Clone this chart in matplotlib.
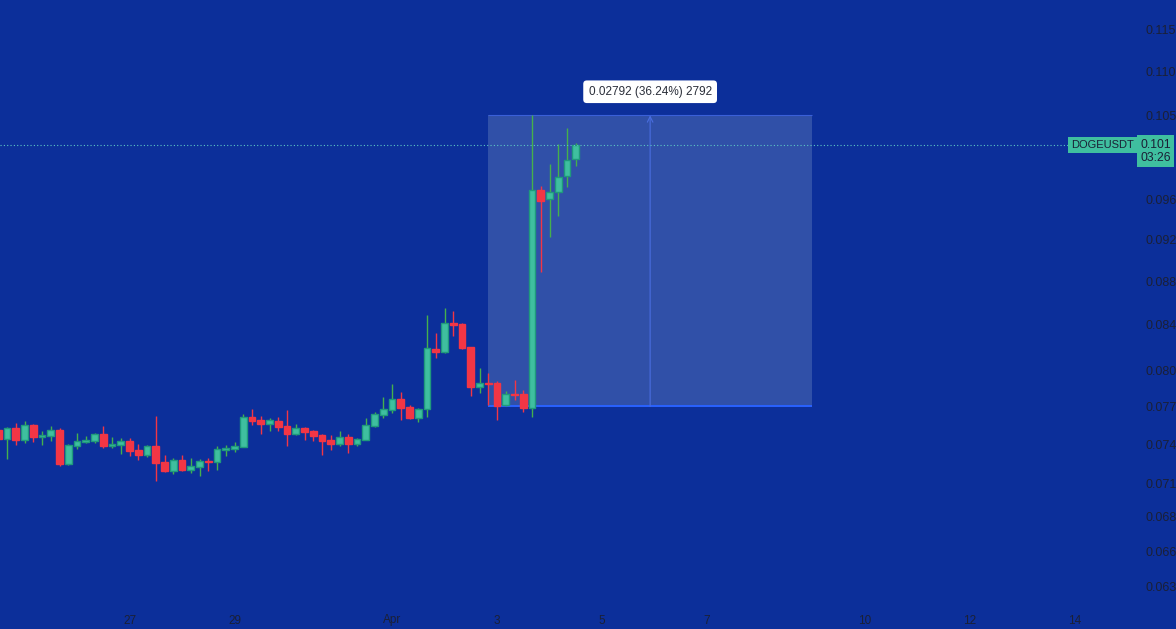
import numpy as np
import pandas as pd
import matplotlib
matplotlib.use("Agg")
import matplotlib.pyplot as plt
from matplotlib.patches import Rectangle
from matplotlib.ticker import NullLocator

plt.rcParams['font.family'] = ['Liberation Sans', 'DejaVu Sans']

### data : DOGEUSDT 4h candles ###
t0 = pd.Timestamp('2023-03-24 12:00')
n_bars = 67

o = [0.07513, 0.07441, 0.07529, 0.07434, 0.07553, 0.07457, 0.07465, 0.07513, 0.07246, 0.07386,
     0.07418, 0.07426, 0.07481, 0.07386, 0.07394, 0.07426, 0.07355, 0.07316, 0.07386, 0.07262,
     0.07193, 0.07277, 0.07200, 0.07223, 0.07269, 0.07262, 0.07355, 0.07363, 0.07378, 0.07617,
     0.07593, 0.07561, 0.07585, 0.07545, 0.07481, 0.07529, 0.07505, 0.07473, 0.07434, 0.07402,
     0.07457, 0.07402, 0.07434, 0.07545, 0.07634, 0.07674, 0.07765, 0.07699, 0.07609, 0.07683,
     0.08188, 0.08162, 0.08418, 0.08409, 0.08206, 0.07864, 0.07898, 0.07898, 0.07715, 0.07806,
     0.07806, 0.07691, 0.09696, 0.09603, 0.09675, 0.09841, 0.10020]
h = [0.07529, 0.07537, 0.07569, 0.07585, 0.07561, 0.07505, 0.07545, 0.07529, 0.07402, 0.07489,
     0.07465, 0.07489, 0.07545, 0.07457, 0.07449, 0.07449, 0.07402, 0.07394, 0.07626, 0.07316,
     0.07293, 0.07316, 0.07293, 0.07285, 0.07293, 0.07386, 0.07394, 0.07418, 0.07642, 0.07683,
     0.07626, 0.07609, 0.07617, 0.07674, 0.07561, 0.07537, 0.07513, 0.07478, 0.07473, 0.07505,
     0.07481, 0.07449, 0.07609, 0.07658, 0.07781, 0.07889, 0.07823, 0.07715, 0.07691, 0.08490,
     0.08329, 0.08553, 0.08526, 0.08418, 0.08210, 0.08025, 0.07982, 0.07915, 0.07831, 0.07923,
     0.07839, 0.10496, 0.09737, 0.09967, 0.10181, 0.10356, 0.10192]
l = [0.07426, 0.07285, 0.07394, 0.07410, 0.07418, 0.07394, 0.07426, 0.07231, 0.07240, 0.07363,
     0.07410, 0.07410, 0.07371, 0.07371, 0.07324, 0.07308, 0.07277, 0.07300, 0.07117, 0.07185,
     0.07170, 0.07193, 0.07177, 0.07155, 0.07193, 0.07200, 0.07308, 0.07339, 0.07375, 0.07553,
     0.07481, 0.07505, 0.07505, 0.07386, 0.07473, 0.07434, 0.07426, 0.07316, 0.07355, 0.07386,
     0.07332, 0.07386, 0.07430, 0.07540, 0.07609, 0.07650, 0.07593, 0.07605, 0.07577, 0.07617,
     0.08110, 0.08155, 0.08302, 0.08188, 0.07789, 0.07814, 0.07715, 0.07593, 0.07707, 0.07757,
     0.07658, 0.07617, 0.08887, 0.09223, 0.09431, 0.09727, 0.09946]
c = [0.07441, 0.07529, 0.07434, 0.07553, 0.07457, 0.07473, 0.07513, 0.07246, 0.07394, 0.07426,
     0.07434, 0.07481, 0.07386, 0.07402, 0.07426, 0.07347, 0.07316, 0.07386, 0.07254, 0.07193,
     0.07277, 0.07200, 0.07231, 0.07269, 0.07262, 0.07363, 0.07371, 0.07386, 0.07617, 0.07585,
     0.07561, 0.07593, 0.07537, 0.07481, 0.07529, 0.07497, 0.07465, 0.07426, 0.07402, 0.07457,
     0.07402, 0.07441, 0.07553, 0.07642, 0.07683, 0.07765, 0.07691, 0.07609, 0.07683, 0.08197,
     0.08162, 0.08418, 0.08400, 0.08197, 0.07864, 0.07898, 0.07889, 0.07707, 0.07806, 0.07798,
     0.07691, 0.09696, 0.09583, 0.09675, 0.09831, 0.10010, 0.10171]

# price axis (TradingView log scale)
price_ticks = [0.1150, 0.1100, 0.1050, 0.0960, 0.0920, 0.0880, 0.0840, 0.0800,
               0.0770, 0.0740, 0.0710, 0.0685, 0.0660, 0.0636]
price_labels = ['0.115', '0.110', '0.105', '0.096', '0.092', '0.088', '0.084', '0.080',
                '0.077', '0.074', '0.071', '0.068', '0.066', '0.063']
date_ticks = ['2023-03-27', '2023-03-29', '2023-04-01', '2023-04-03', '2023-04-05',
              '2023-04-07', '2023-04-10', '2023-04-12', '2023-04-14']
date_labels = ['27', '29', 'Apr', '3', '5', '7', '10', '12', '14']

# price range drawing
range_start = '2023-04-02 20:00'
range_end = '2023-04-09 00:00'
range_lo = 0.07704
range_hi = 0.10496
range_text = '0.02792 (36.24%) 2792'
symbol = 'DOGEUSDT'
last_label = '0.101\n03:26'

### style ###
BG = '#0c2f9a'
UP = '#3fbf9f'
UP_EDGE = '#1f9a7c'
UP_WICK = '#45b04c'
DOWN = '#f23645'
TXT = '#1b2036'

ref = pd.Timestamp('2023-04-01')


def to_day(ts):
    return (pd.to_datetime(ts) - ref) / pd.Timedelta(days=1)


def main():
    times = pd.date_range(t0, periods=n_bars, freq='4h')
    x = np.asarray(to_day(times), dtype=float)
    op, hi, lo, cl = map(np.asarray, (o, h, l, c))
    up = cl >= op

    fig = plt.figure(figsize=(11.76, 6.29), dpi=100)
    fig.patch.set_facecolor(BG)
    ax = fig.add_axes([0, 27 / 629, 1136 / 1176, 602 / 629])
    ax.set_facecolor(BG)
    ax.set_yscale('log')
    ax.set_ylim(0.06258, 0.11865)
    ax.set_xlim(-7.4667, 14.1714)

    # measurement box
    x0, x1 = to_day(range_start), to_day(range_end)
    ax.add_patch(Rectangle((x0, range_lo), x1 - x0, range_hi - range_lo,
                           facecolor='#3050a8', edgecolor='none', zorder=1))
    ax.hlines(range_lo, x0, x1, color='#2962ff', lw=1.4, zorder=2)
    ax.hlines(range_hi, x0, x1, color='#3a60d8', lw=0.8, zorder=2)
    xm = (x0 + x1) / 2
    ax.annotate('', xy=(xm, range_hi), xytext=(xm, range_lo),
                arrowprops=dict(arrowstyle='->', color='#4a6ee0', lw=0.8,
                                shrinkA=0, shrinkB=0), zorder=2)

    # candles
    w = 0.125
    ax.vlines(x[up], lo[up], hi[up], color=UP_WICK, lw=1, zorder=3)
    ax.vlines(x[~up], lo[~up], hi[~up], color=DOWN, lw=1, zorder=3)
    ax.bar(x[up], cl[up] - op[up], bottom=op[up], width=w,
           color=UP, edgecolor=UP_EDGE, linewidth=1, zorder=4)
    ax.bar(x[~up], op[~up] - cl[~up], bottom=cl[~up], width=w,
           color=DOWN, edgecolor=DOWN, linewidth=1, zorder=4)

    # last price line
    ax.axhline(cl[-1], color='#5cc9c4', linestyle=(0, (1, 2)), lw=0.8, zorder=5)

    # range tooltip
    ax.annotate(range_text, xy=(xm, range_hi), xytext=(0, 17), textcoords='offset points',
                ha='center', va='center', fontsize=8.5, color='#2a2e39', zorder=6,
                bbox=dict(boxstyle='round,pad=0.45,rounding_size=0.3', fc='white', ec='none'))

    # symbol + last price labels
    ax.text(0.998, cl[-1], symbol, transform=ax.get_yaxis_transform(), ha='right', va='center',
            fontsize=8, color=TXT, zorder=6,
            bbox=dict(boxstyle='square,pad=0.3', fc=UP, ec='none'))
    ax.annotate(last_label, xy=(1, cl[-1]), xycoords=('axes fraction', 'data'),
                xytext=(3, -4.5), textcoords='offset points', ha='left', va='center',
                fontsize=8.8, color=TXT, linespacing=1.1, annotation_clip=False,
                bbox=dict(boxstyle='square,pad=0.3', fc=UP, ec='none'))

    # axes
    ax.yaxis.tick_right()
    ax.set_yticks(price_ticks, price_labels)
    ax.yaxis.set_minor_locator(NullLocator())
    ax.set_xticks([to_day(d) for d in date_ticks], date_labels)
    ax.tick_params(axis='y', length=0, pad=7, labelsize=9, labelcolor=TXT)
    ax.tick_params(axis='x', length=0, pad=9, labelsize=8.5, labelcolor=TXT)
    for s in ax.spines.values():
        s.set_visible(False)

    fig.savefig('out.png', dpi=100, facecolor=BG)


if __name__ == '__main__':
    main()
